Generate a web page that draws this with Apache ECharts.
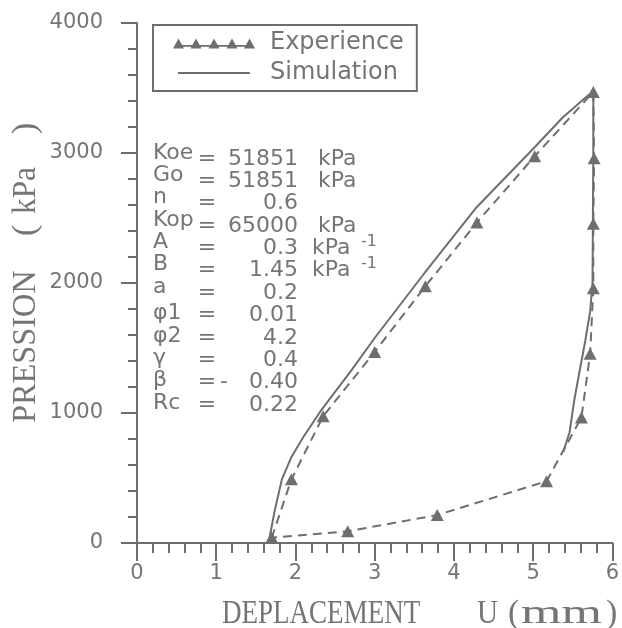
<!DOCTYPE html>
<html><head><meta charset="utf-8">
<script src="https://cdn.jsdelivr.net/npm/echarts@6/dist/echarts.min.js"></script>
<style>html,body{margin:0;padding:0;background:#fff}#c{width:622px;height:628px}</style>
</head><body><div id="c"></div>
<script>
// ---- data ----
const expX = [1.70, 1.95, 2.35, 3.00, 3.64, 4.29, 5.02, 5.76, 5.77, 5.76, 5.76, 5.72, 5.61, 5.17, 3.79, 2.66, 1.70];
const expY = [40, 490, 975, 1470, 1975, 2465, 2975, 3470, 2960, 2455, 1960, 1455, 965, 475, 215, 90, 40];
const simX = [1.66, 1.74, 1.83, 1.95, 2.10, 2.31, 2.50, 2.69, 3.00, 3.63, 4.29, 4.95, 5.38, 5.70, 5.76, 5.76, 5.755, 5.75, 5.72, 5.66, 5.58, 5.52, 5.46, 5.38];
const simY = [0, 254, 492, 662, 815, 1008, 1162, 1315, 1577, 2077, 2585, 3000, 3277, 3446, 3469, 3000, 2500, 2000, 1780, 1560, 1300, 1100, 850, 700];
const xTicks = [0, 1, 2, 3, 4, 5, 6];
const yTicks = [0, 1000, 2000, 3000, 4000];
const seriesNames = ['Experience', 'Simulation'];
const paramNames = ['Koe', 'Go', 'n', 'Kop', 'A', 'B', 'a', 'φ1', 'φ2', 'γ', 'β', 'Rc'];
const paramSigns = ['', '', '', '', '', '', '', '', '', '', '-', ''];
const paramValues = ['51851', '51851', '0.6', '65000', '0.3', '1.45', '0.2', '0.01', '4.2', '0.4', '0.40', '0.22'];
const paramUnits = ['kPa', 'kPa', '', 'kPa', 'kPa', 'kPa', '', '', '', '', '', ''];
const paramSups = ['', '', '', '', '-1', '-1', '', '', '', '', '', ''];
const xTitle = ['DEPLACEMENT', 'U', '(', 'mm', ')'];
const yTitle = ['PRESSION', '(', 'kPa', ')'];

// ---- styling ----
const INK = '#6e6e6e';
const TXT = '#757575';
const SANS = '"DejaVu Sans", sans-serif';
const SERIF = '"Liberation Serif", serif';

const expData = expX.map((x, i) => [x, expY[i]]);
const simData = simX.map((x, i) => [x, simY[i]]);

// legend icons (box 82 x 11)
function triPath() {
  let p = '';
  const cs = [5.5, 23, 41, 59, 76.5];
  cs.forEach(c => { p += `M${c - 5.5},11 L${c},1 L${c + 5.5},11 Z `; });
  p += 'M4,7.5 L78,7.5 L78,9.3 L4,9.3 Z ';
  p += 'M0,0 L0.05,0 L0.05,0.05 Z M81.95,10.95 L82,10.95 L82,11 Z';
  return 'path://' + p;
}
const linePath = 'path://M0,0 L0.05,0 L0.05,0.05 Z M5,4.6 L77,4.6 L77,6.4 L5,6.4 Z M81.95,10.95 L82,10.95 L82,11 Z';

function txt(o) {
  const s = Object.assign({ fill: TXT }, o.style);
  if (s.textAlign) s.align = s.textAlign;
  if (s.textVerticalAlign) s.verticalAlign = s.textVerticalAlign;
  return { type: 'text', x: o.x, y: o.y, rotation: o.rotation || 0, scaleX: o.scaleX || 1, silent: true, style: s, z: 10 };
}

const graphics = [];
// parameter block
paramNames.forEach((nm, i) => {
  const vy = 159 + i * 22.35;
  const ly = vy - (i < 7 ? 6 : 2);
  const f = '22px ' + SANS;
  graphics.push(txt({ x: 153, y: ly, style: { text: nm, font: f, textAlign: 'left', textVerticalAlign: 'middle' } }));
  graphics.push(txt({ x: 207, y: vy, style: { text: '=', font: f, textAlign: 'center', textVerticalAlign: 'middle' } }));
  if (paramSigns[i]) graphics.push(txt({ x: 224, y: vy, style: { text: paramSigns[i], font: f, textAlign: 'center', textVerticalAlign: 'middle' } }));
  graphics.push(txt({ x: 298, y: vy, style: { text: paramValues[i], font: f, textAlign: 'right', textVerticalAlign: 'middle' } }));
  if (paramUnits[i]) graphics.push(txt({ x: paramSups[i] ? 312 : 318, y: vy, style: { text: paramUnits[i], font: f, textAlign: 'left', textVerticalAlign: 'middle' } }));
  if (paramSups[i]) graphics.push(txt({ x: 361, y: vy - 7, style: { text: paramSups[i], font: '16px ' + SANS, textAlign: 'left', textVerticalAlign: 'middle' } }));
});
// x axis title
const xf = '34px ' + SERIF;
graphics.push(txt({ x: 222, y: 614, scaleX: 0.795, style: { text: xTitle[0], font: xf, textAlign: 'left', textVerticalAlign: 'middle' } }));
graphics.push(txt({ x: 477, y: 614, scaleX: 0.86, style: { text: xTitle[1], font: xf, textAlign: 'left', textVerticalAlign: 'middle' } }));
graphics.push(txt({ x: 508, y: 614, style: { text: xTitle[2], font: xf, textAlign: 'left', textVerticalAlign: 'middle' } }));
graphics.push(txt({ x: 521, y: 614, scaleX: 1.53, style: { text: xTitle[3], font: xf, textAlign: 'left', textVerticalAlign: 'middle' } }));
graphics.push(txt({ x: 606, y: 614, style: { text: xTitle[4], font: xf, textAlign: 'left', textVerticalAlign: 'middle' } }));
// y axis title (rotated)
const yf = '34px ' + SERIF;
const R = Math.PI / 2;
graphics.push(txt({ x: 26, y: 423, rotation: R, scaleX: 0.95, style: { text: yTitle[0], font: yf, textAlign: 'left', textVerticalAlign: 'middle' } }));
graphics.push(txt({ x: 26, y: 236, rotation: R, style: { text: yTitle[1], font: yf, textAlign: 'left', textVerticalAlign: 'middle' } }));
graphics.push(txt({ x: 26, y: 214, rotation: R, scaleX: 0.92, style: { text: yTitle[2], font: yf, textAlign: 'left', textVerticalAlign: 'middle' } }));
graphics.push(txt({ x: 26, y: 134, rotation: R, style: { text: yTitle[3], font: yf, textAlign: 'left', textVerticalAlign: 'middle' } }));

const axisCommon = {
  type: 'value',
  axisLine: { show: true, onZero: false, lineStyle: { color: INK, width: 2 } },
  splitLine: { show: false },
  minorSplitLine: { show: false },
};

const option = {
  animation: false,
  backgroundColor: '#fff',
  grid: { left: 137, right: 6, top: 23, bottom: 85, containLabel: false },
  xAxis: Object.assign({}, axisCommon, {
    min: 0, max: 6, interval: 1,
    axisTick: { show: true, inside: false, length: 18, lineStyle: { color: INK, width: 2 } },
    minorTick: { show: true, splitNumber: 5, length: 10, lineStyle: { color: INK, width: 2 } },
    axisLabel: { margin: 20, fontSize: 21, fontFamily: SANS, color: TXT,
      formatter: v => (xTicks.indexOf(v) >= 0 ? String(v) : '') },
  }),
  yAxis: Object.assign({}, axisCommon, {
    min: 0, max: 4000, interval: 1000,
    axisTick: { show: true, inside: false, length: 16, lineStyle: { color: INK, width: 2 } },
    minorTick: { show: true, splitNumber: 5, length: 9, lineStyle: { color: INK, width: 2 } },
    axisLabel: { margin: 34, fontSize: 21, fontFamily: SANS, color: TXT,
      formatter: v => (yTicks.indexOf(v) >= 0 ? String(v) : '') },
  }),
  legend: {
    left: 153, top: 25, orient: 'vertical',
    padding: [6, 13, 6, 20],
    borderColor: INK, borderWidth: 2,
    itemWidth: 82, itemHeight: 11, itemGap: 6,
    selectedMode: false,
    textStyle: { fontFamily: SANS, fontSize: 24, lineHeight: 22, color: TXT, padding: [0, 0, 0, 10] },
    data: [
      { name: seriesNames[0], icon: triPath() },
      { name: seriesNames[1], icon: linePath },
    ],
  },
  series: [
    {
      name: seriesNames[0], type: 'line', data: expData,
      symbol: 'triangle', symbolSize: [13, 12], showSymbol: true,
      itemStyle: { color: INK },
      lineStyle: { color: INK, width: 2, type: [9, 6] },
      z: 3,
    },
    {
      name: seriesNames[1], type: 'line', data: simData,
      symbol: 'none', showSymbol: false,
      itemStyle: { color: INK },
      lineStyle: { color: INK, width: 2 },
      z: 2,
    },
  ],
  graphic: graphics,
};

const chart = echarts.init(document.getElementById('c'), null, { renderer: 'canvas' });
chart.setOption(option);
</script>
</body></html>
